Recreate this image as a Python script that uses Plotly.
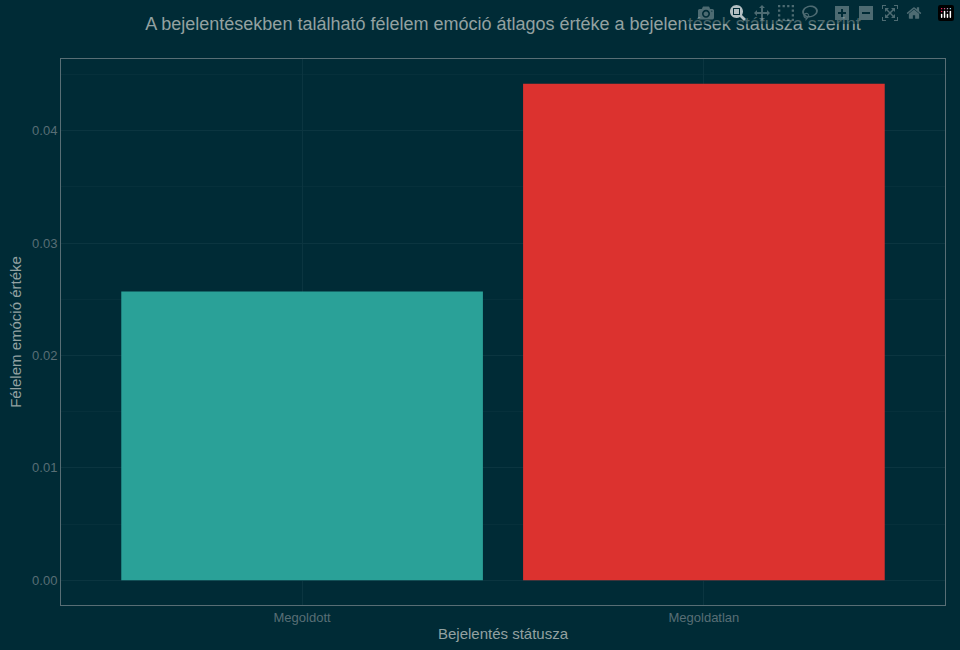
import plotly.graph_objects as go

categories = ["Megoldott", "Megoldatlan"]
values = [0.02569, 0.04418]
colors = ["#2aa198", "#dc322f"]

bg = "#002b36"
fig = go.Figure(go.Bar(x=categories, y=values, marker=dict(color=colors, line=dict(width=0)), width=0.9))
fig.update_layout(
    width=960, height=650,
    paper_bgcolor=bg, plot_bgcolor=bg,
    margin=dict(l=61, r=15, t=59, b=45),
    font=dict(family="Liberation Sans, Arial", color="#657b83", size=13),
    title=dict(text="A bejelentésekben található félelem emóció átlagos értéke a bejelentések státusza szerint",
               x=(61 + 945) / 2 / 960, xanchor="center", y=1 - 24 / 650, yanchor="middle",
               font=dict(size=18, color="#93a1a1")),
    showlegend=False,
)
fig.update_xaxes(title=dict(text="Bejelentés státusza", font=dict(size=15, color="#93a1a1"), standoff=4),
                 range=[-0.6, 1.6],
                 showgrid=True, gridcolor="#0b3540", ticks="", showline=True, mirror=True,
                 linecolor="#586e75", tickfont=dict(color="#586e75"))
fig.update_yaxes(title=dict(text="Félelem emóció értéke", font=dict(size=15, color="#93a1a1"), standoff=6),
                 range=[-0.00221, 0.04639], tickvals=[0, 0.01, 0.02, 0.03, 0.04],
                 ticktext=["0.00", "0.01", "0.02", "0.03", "0.04"],
                 showgrid=True, gridcolor="#0b3540", zeroline=False, ticks="",
                 showline=True, mirror=True, linecolor="#586e75", tickfont=dict(color="#586e75"),
                 minor=dict(tickvals=[0.005, 0.015, 0.025, 0.035, 0.045], showgrid=True, gridcolor="#06303b"))
fig.write_html("out.html")

with open("out.html", encoding="utf-8") as f:
    html = f.read()
html = html.replace("<head>", "<head><style>html,body{margin:0;padding:0;background:#002b36;overflow:hidden}</style>", 1)
with open("out.html", "w", encoding="utf-8") as f:
    f.write(html)
